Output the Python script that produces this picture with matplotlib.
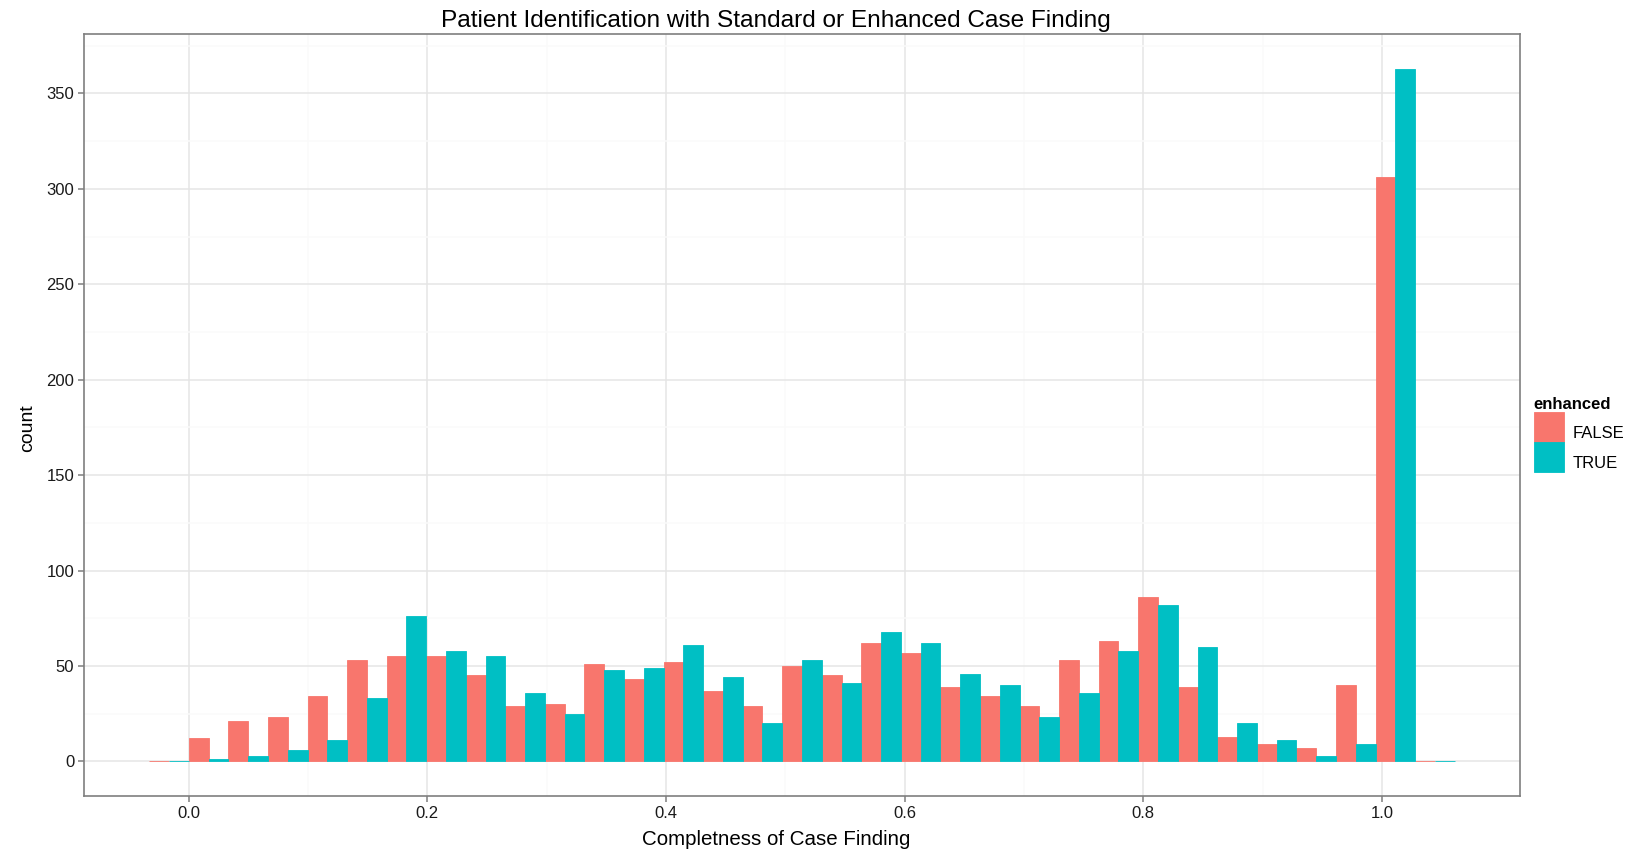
import matplotlib
matplotlib.use("Agg")
import matplotlib.pyplot as plt
import numpy as np

# histogram counts per bin
counts_false = [0, 12, 21, 23, 34, 53, 55, 55, 45, 29, 30,
                51, 43, 52, 37, 29, 50, 45, 62, 57, 39, 34,
                29, 53, 63, 86, 39, 13, 9, 7, 40, 306, 0]
counts_true = [0, 1, 3, 6, 11, 33, 76, 58, 55, 36, 25,
               48, 49, 61, 44, 20, 53, 41, 68, 62, 46, 40,
               23, 36, 58, 82, 60, 20, 11, 3, 9, 363, 0]
groups = ["FALSE", "TRUE"]
bin_start = -0.0329
bin_width = 0.03315

colors = ["#F8766D", "#00BFC4"]

plt.rcParams['font.family'] = ['Liberation Sans', 'DejaVu Sans']

fig = plt.figure(figsize=(16.32, 8.52), dpi=100)
ax = fig.add_axes([84 / 1632, 1 - 796 / 852, (1520 - 84) / 1632, (796 - 34) / 852])

n = len(counts_false)
left = bin_start + bin_width * np.arange(n)
half = bin_width / 2
for i, (vals, col, lab) in enumerate(zip([counts_false, counts_true], colors, groups)):
    ax.bar(left + i * half, vals, width=half, align='edge', color=col,
           edgecolor=col, linewidth=0.6, label=lab, zorder=3)

x_lo, x_hi = left[0], left[-1] + bin_width
pad = 0.05 * (x_hi - x_lo)
ax.set_xlim(x_lo - pad, x_hi + pad)
ymax = max(max(counts_false), max(counts_true))
ax.set_ylim(-0.05 * ymax, 1.05 * ymax)

ax.set_xticks(np.arange(0, 1.01, 0.2))
ax.set_xticklabels(["0.0", "0.2", "0.4", "0.6", "0.8", "1.0"])
ax.set_xticks(np.arange(0.1, 1.1, 0.2), minor=True)
ax.set_yticks(np.arange(0, 351, 50))
ax.set_yticks(np.arange(25, 376, 50), minor=True)

ax.grid(True, which='major', color='#e5e5e5', linewidth=1.1, zorder=0)
ax.grid(True, which='minor', color='#fafafa', linewidth=1.1, zorder=0)
ax.set_axisbelow(True)
for s in ax.spines.values():
    s.set_color('#7f7f7f')
    s.set_linewidth(1.2)
ax.tick_params(which='major', length=4, color='#7f7f7f', width=1.1,
               labelsize=12, labelcolor='#1a1a1a', pad=3)
ax.tick_params(which='minor', length=0)

ax.set_xlabel("Completness of Case Finding", fontsize=14.8)
ax.xaxis.set_label_coords(0.482, -0.045)
ax.set_ylabel("count", fontsize=14)
ax.yaxis.set_label_coords(-0.033, 0.483)
fig.text(776 / 1632, 1 - 21 / 852,
         "Patient Identification with Standard or Enhanced Case Finding",
         fontsize=17.6, ha='center', va='center')

leg = ax.legend(title="enhanced", loc='upper left', bbox_to_anchor=(1.005, 0.532),
                frameon=False, fontsize=12, title_fontsize=12,
                handlelength=1.8, handleheight=2.39, labelspacing=0.0,
                handletextpad=0.5, borderaxespad=0, alignment='left')
leg.get_title().set_fontweight('bold')
for t in leg.get_texts():
    t.set_va('center_baseline')

fig.savefig("out.png", dpi=100)
